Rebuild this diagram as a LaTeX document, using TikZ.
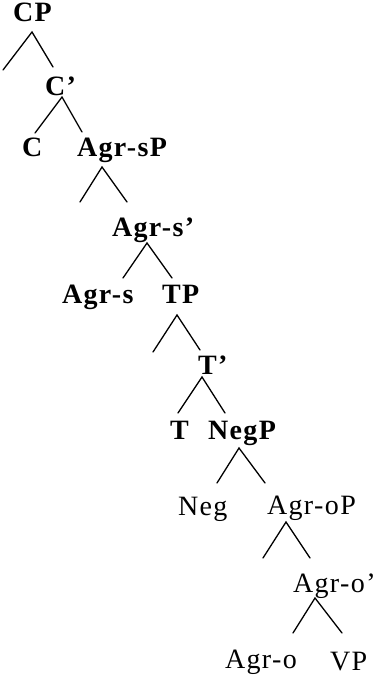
\documentclass[tikz,border=0pt]{standalone}
\usepackage{fontspec}
\setmainfont[LetterSpace=5]{Liberation Serif}
\usepackage{tikz}
\tikzstyle{cat}=[inner sep=0, outer sep=0, anchor=base west, font=\fontsize{28}{30}\selectfont]
\tikzstyle{bcat}=[cat, font=\fontsize{28}{30}\selectfont\bfseries]
\tikzstyle{branch}=[line width=1.3pt, line cap=round, line join=miter]

\begin{document}
\begin{tikzpicture}[x=1pt, y=-1pt]
        \useasboundingbox (0, 0) rectangle (377, 677);
        % labels
        \node[bcat] (CP) at (13, 22) {CP};
        \node[bcat] (Cbar) at (45, 95) {C'};
        \node[bcat] (C) at (22, 156) {C};
        \node[bcat] (AgrsP) at (77, 156) {Agr-sP};
        \node[bcat] (Agrsbar) at (112, 236) {Agr-s'};
        \node[bcat] (Agrs) at (62, 303) {Agr-s};
        \node[bcat] (TP) at (162, 303) {TP};
        \node[bcat] (Tbar) at (198, 374) {T'};
        \node[bcat] (T) at (170, 439) {T};
        \node[bcat] (NegP) at (208, 439) {NegP};
        \node[cat] (Neg) at (178, 515) {Neg};
        \node[cat] (AgroP) at (267, 514) {Agr-oP};
        \node[cat] (Agrobar) at (293, 592) {Agr-o'};
        \node[cat] (Agro) at (225, 668) {Agr-o};
        \node[cat] (VP) at (330, 670) {VP};
        % branch points
        \coordinate (CP-a) at (32, 32);
        \coordinate (CP-l) at (3, 70);
        \coordinate (CP-r) at (53, 67);
        \coordinate (Cbar-a) at (62, 97);
        \coordinate (Cbar-l) at (35, 133);
        \coordinate (Cbar-r) at (82, 132);
        \coordinate (AgrsP-a) at (102, 167);
        \coordinate (AgrsP-l) at (80, 202);
        \coordinate (AgrsP-r) at (127, 202);
        \coordinate (Agrsbar-a) at (147, 243);
        \coordinate (Agrsbar-l) at (123, 278);
        \coordinate (Agrsbar-r) at (172, 278);
        \coordinate (TP-a) at (177, 315);
        \coordinate (TP-l) at (153, 352);
        \coordinate (TP-r) at (200, 350);
        \coordinate (Tbar-a) at (202, 377);
        \coordinate (Tbar-l) at (178, 413);
        \coordinate (Tbar-r) at (225, 413);
        \coordinate (NegP-a) at (239, 448);
        \coordinate (NegP-l) at (217, 483);
        \coordinate (NegP-r) at (265, 483);
        \coordinate (AgroP-a) at (286, 522);
        \coordinate (AgroP-l) at (263, 558);
        \coordinate (AgroP-r) at (310, 558);
        \coordinate (Agrobar-a) at (315, 598);
        \coordinate (Agrobar-l) at (293, 633);
        \coordinate (Agrobar-r) at (342, 633);
        % branches
        \foreach \n in {CP, Cbar, AgrsP, Agrsbar, TP, Tbar, NegP, AgroP, Agrobar}
            \draw[branch] (\n-l) -- (\n-a) -- (\n-r);
    \end{tikzpicture}
\end{document}
